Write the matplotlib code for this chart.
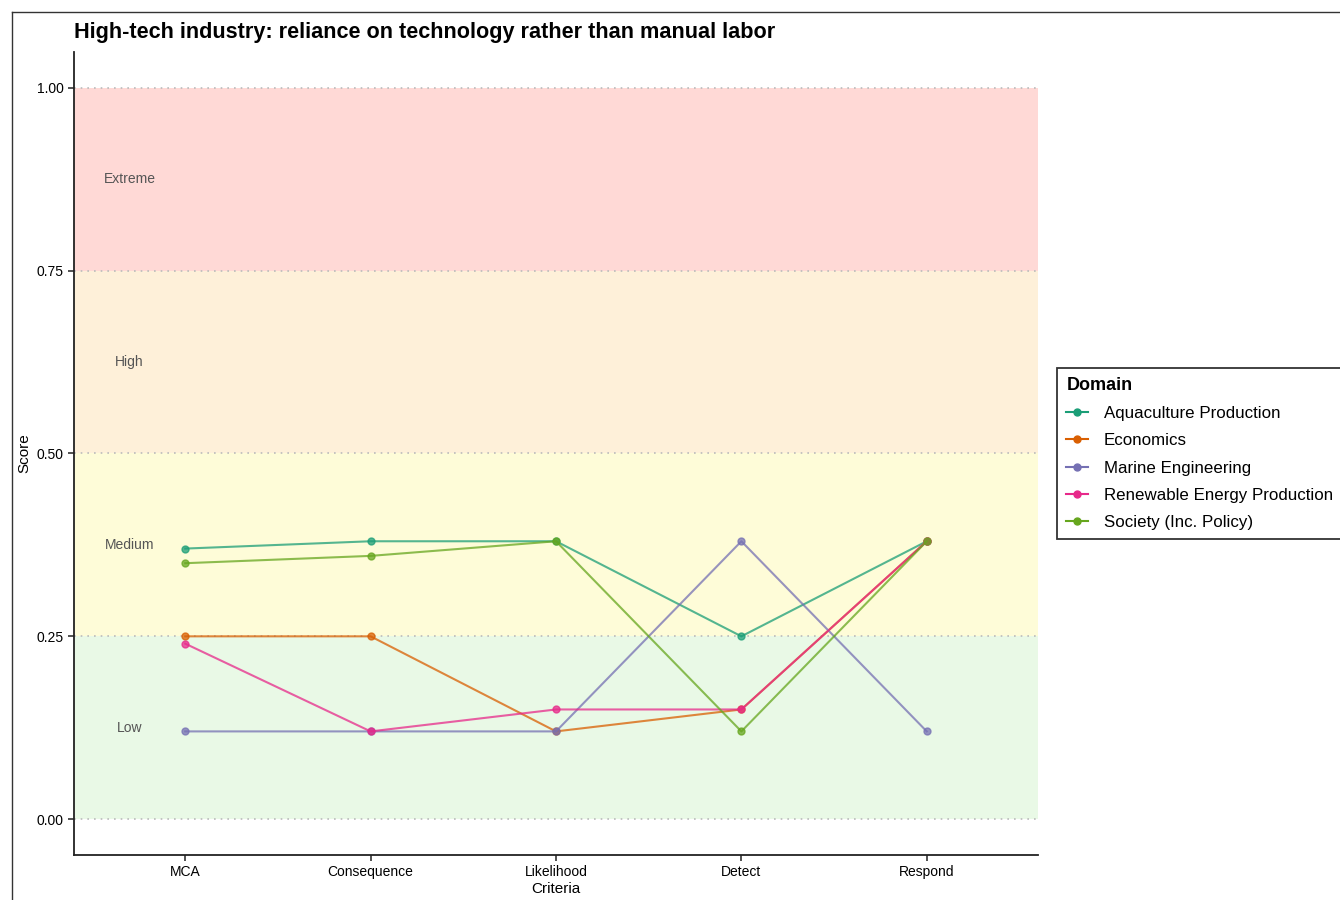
"""Risk profile chart: high-tech industry reliance scores by domain."""

import matplotlib

matplotlib.use("Agg")
import matplotlib.pyplot as plt
from matplotlib.lines import Line2D

# ---- Data ----
criteria = ["MCA", "Consequence", "Likelihood", "Detect", "Respond"]
domains = ["Aquaculture Production", "Economics", "Marine Engineering",
           "Renewable Energy Production", "Society (Inc. Policy)"]

aquaculture = [0.37, 0.38, 0.38, 0.25, 0.38]
economics = [0.25, 0.25, 0.12, 0.15, 0.38]
marine = [0.12, 0.12, 0.12, 0.38, 0.12]
renewable = [0.24, 0.12, 0.15, 0.15, 0.38]
society = [0.35, 0.36, 0.38, 0.12, 0.38]

band_names = ["Low", "Medium", "High", "Extreme"]
band_edges = [0.0, 0.25, 0.5, 0.75, 1.0]
band_colors = ["#e9f9e6", "#fefcd8", "#fef0d9", "#ffd9d6"]

palette = ["#1b9e77", "#d95f02", "#7570b3", "#e7298a", "#66a61e"]

plt.rcParams["font.family"] = ["Liberation Sans", "DejaVu Sans"]

fig = plt.figure(figsize=(13.4, 9), dpi=100)
ax = fig.add_axes([74 / 1340, 45 / 900, (1038 - 74) / 1340, (855 - 52) / 900])

# ---- Risk bands ----
x_lo, x_hi = -0.6, len(criteria) - 1 + 0.6
for i, name in enumerate(band_names):
    ax.axhspan(band_edges[i], band_edges[i + 1], xmin=0, xmax=1,
               color=band_colors[i], zorder=0, lw=0)
    ax.text(-0.3, (band_edges[i] + band_edges[i + 1]) / 2, name,
            ha="center", va="center", fontsize=10, color="#555555")
for y in band_edges:
    ax.axhline(y, color="#bbbbbb", lw=1.2, ls=(0, (1, 3)), zorder=1)

# ---- Series ----
xs = list(range(len(criteria)))
series = [aquaculture, economics, marine, renewable, society]
for name, vals, col in zip(domains, series, palette):
    ax.plot(xs, vals, color=col, lw=1.5, alpha=0.75, marker="o",
            markersize=5, label=name, zorder=3)

ax.set_xlim(x_lo, x_hi)
ax.set_ylim(-0.049, 1.049)
ax.set_xticks(xs)
ax.set_xticklabels(criteria)
ax.set_yticks(band_edges)
ax.set_yticklabels([f"{v:.2f}" for v in band_edges])
ax.tick_params(labelsize=10, length=4, width=1.2, colors="#333333", labelcolor="black")
ax.set_xlabel("Criteria", fontsize=11, labelpad=2)
ax.set_ylabel("Score", fontsize=11, labelpad=4)
for side in ("top", "right"):
    ax.spines[side].set_visible(False)
for side in ("left", "bottom"):
    ax.spines[side].set_linewidth(1.3)
    ax.spines[side].set_color("#222222")

ax.set_title("High-tech industry: reliance on technology rather than manual labor",
             loc="left", fontsize=15.6, fontweight="bold", pad=10)

leg = ax.legend(title="Domain", loc="center left", bbox_to_anchor=(1.0197, 0.5),
                borderaxespad=0, frameon=True, fancybox=False, edgecolor="black",
                fontsize=12.2, title_fontproperties={"weight": "bold", "size": 13},
                handlelength=1.3, handletextpad=0.9, borderpad=0.55,
                labelspacing=0.72, alignment="left")
leg.get_frame().set_linewidth(1.3)
for h in leg.legend_handles:
    h.set_alpha(1.0)

# Outer frame lines from the screenshot
fig.add_artist(Line2D([12 / 1340, 12 / 1340], [0, 1 - 12 / 900],
                      transform=fig.transFigure, color="#333333", lw=1))
fig.add_artist(Line2D([12 / 1340, 1], [1 - 12 / 900, 1 - 12 / 900],
                      transform=fig.transFigure, color="#333333", lw=1))

fig.savefig("out.png", dpi=100)
